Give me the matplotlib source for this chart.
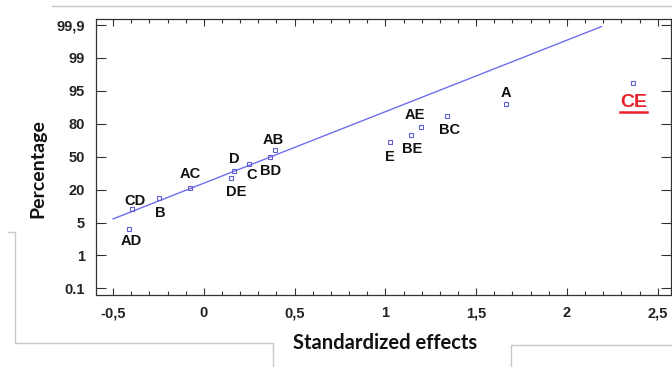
import matplotlib
matplotlib.use("Agg")
import matplotlib.pyplot as plt
from matplotlib.lines import Line2D
import matplotlib.transforms as mtransforms
from matplotlib.ticker import MultipleLocator

# Effect names, standardized effects and their rank position on the probability axis
effects = ["AD", "CD", "B", "AC", "DE", "D", "C", "BD", "AB",
           "E", "BE", "AE", "BC", "A", "CE"]
std_effect = [-0.412, -0.397, -0.247, -0.076, 0.151, 0.166, 0.249, 0.366, 0.394,
              1.025, 1.141, 1.194, 1.341, 1.664, 2.365]
prob_pos = [1.79, 2.40, 2.75, 3.06, 3.34, 3.56, 3.79, 3.98, 4.20,
            4.45, 4.66, 4.91, 5.22, 5.59, 6.23]

# Reference line through the small effects
line_x = [-0.5, 2.19]
line_y = [2.11, 7.95]

# Probability axis labels (equally spaced)
pct_labels = ["0.1", "1", "5", "20", "50", "80", "95", "99", "99,9"]
x_ticks = [-0.5, 0, 0.5, 1, 1.5, 2, 2.5]
x_labels = ["-0,5", "0", "0,5", "1", "1,5", "2", "2,5"]

# Label placement (pixel offsets from each point)
label_offsets = {
    "AD": (2, -12), "CD": (3, 8), "B": (1, -15), "AC": (0, 14), "DE": (5, -14),
    "D": (0, 12), "C": (3, -11), "BD": (0, -14), "AB": (-2, 10), "E": (0, -15),
    "BE": (1, -14), "AE": (-6, 12), "BC": (2, -14), "A": (0, 11), "CE": (1, -19),
}

W, H = 672, 367
fig = plt.figure(figsize=(W / 100, H / 100), dpi=100)
fig.patch.set_facecolor("white")
ax = fig.add_axes([96 / W, 1 - 295 / H, (671 - 96) / W, (295 - 19) / H])

blue = "#6f6ff0"
ax.plot(line_x, line_y, color=blue, lw=1.0, zorder=2)
ax.plot(std_effect, prob_pos, ls="none", marker="s", ms=3.2, mfc="none",
        mec="#6060d0", mew=0.8, zorder=3)

lab_font = ["Liberation Sans", "DejaVu Sans"]
for name, xv, yv in zip(effects, std_effect, prob_pos):
    dx, dy = label_offsets[name]
    if name == "CE":
        ax.annotate(name, (xv, yv), xytext=(dx, dy), textcoords="offset pixels",
                    ha="center", va="center", fontsize=14, fontweight="bold",
                    color="#e8202a", family=lab_font)
        tr = mtransforms.offset_copy(ax.transData, fig=fig, x=0, y=-29, units="dots")
        ax.add_line(Line2D([xv - 13 / 181.6, xv + 14 / 181.6], [yv, yv], transform=tr,
                           color="#e8202a", lw=1.8, clip_on=False))
    else:
        ax.annotate(name, (xv, yv), xytext=(dx, dy), textcoords="offset pixels",
                    ha="center", va="center", fontsize=10.5, fontweight="bold",
                    color="#111111", family=lab_font)

ax.set_xlim(-0.594, 2.573)
ax.set_ylim(-0.2, 8.18)
ax.set_xticks(x_ticks)
ax.set_xticklabels(x_labels)
ax.xaxis.set_minor_locator(MultipleLocator(0.1))
ax.set_yticks(range(len(pct_labels)))
ax.set_yticklabels(pct_labels)

ax.tick_params(axis="both", which="both", direction="in", top=True, right=True,
               color="#333333", width=0.8)
ax.tick_params(axis="x", which="major", length=5, pad=8)
ax.tick_params(axis="x", which="minor", length=3)
ax.tick_params(axis="y", which="major", length=7, pad=8)
for lab in ax.get_xticklabels() + ax.get_yticklabels():
    lab.set_fontweight("bold")
    lab.set_fontsize(10.5)
    lab.set_family(lab_font)
    lab.set_color("#222222")
for sp in ax.spines.values():
    sp.set_color("#333333")
    sp.set_linewidth(0.9)

fig.text(38 / W, 1 - 169 / H, "Percentage", rotation=90, ha="center", va="center",
         fontsize=14, fontweight="bold", family=["Lato", "DejaVu Sans"], color="#111111")
fig.text(385 / W, 1 - 343 / H, "Standardized effects", ha="center", va="center",
         fontsize=14.5, fontweight="bold", family=["Lato", "DejaVu Sans"], color="#111111")

# Light frame lines around the plot panel
gray = "#c8c8c8"
def fline(xs, ys):
    fig.add_artist(Line2D([x / W for x in xs], [1 - y / H for y in ys],
                          color=gray, lw=1.0))
fline([52, 672], [6, 6])
fline([8, 15, 15, 273, 273], [232, 232, 343, 343, 367])
fline([511, 511, 672], [367, 345, 345])

fig.savefig("out.png", dpi=100, facecolor="white")
